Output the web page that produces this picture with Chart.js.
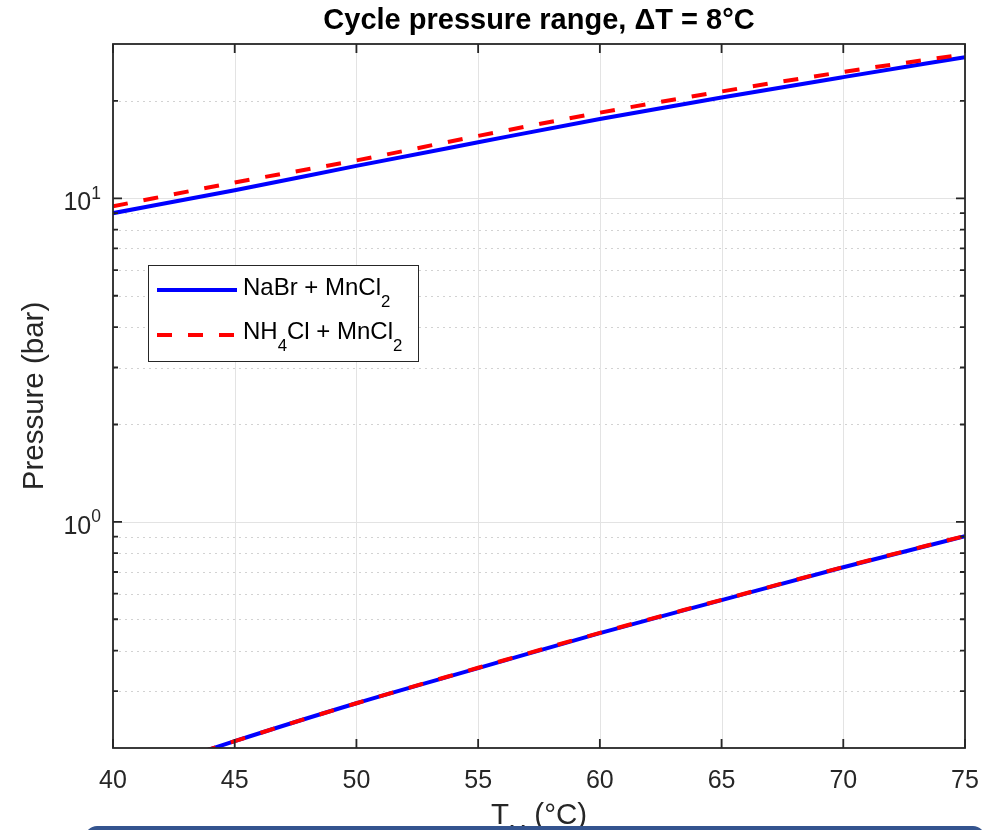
<!DOCTYPE html>
<html>
<head>
<meta charset="utf-8">
<script src="https://cdn.jsdelivr.net/npm/chart.js@4.4.1/dist/chart.umd.min.js"></script>
<style>
  body { margin: 0; background: #fff; overflow: hidden; }
  #wrap { position: relative; width: 996px; height: 830px; }
  #bar { position: absolute; left: 85px; top: 826px; width: 900px; height: 20px;
         background: #34548f; border-radius: 12px 12px 0 0; }
</style>
</head>
<body>
<div id="wrap">
  <canvas id="myChart" width="996" height="830"></canvas>
  <div id="bar"></div>
</div>
<script>
// temperatures T_M (°C)
const tempM = [40, 45, 50, 55, 60, 65, 70, 75];
// pressures (bar)
const nabrHigh = [9.0, 10.6, 12.6, 14.9, 17.6, 20.5, 23.7, 27.3];
const nabrLow = [0.158, 0.21, 0.275, 0.353, 0.453, 0.573, 0.724, 0.903];
const nh4High = [9.45, 11.2, 13.1, 15.6, 18.4, 21.4, 24.6, 27.9];
const nh4Low = [0.158, 0.21, 0.275, 0.354, 0.454, 0.574, 0.725, 0.905];

const xTicks = [40, 45, 50, 55, 60, 65, 70, 75];
const yMajor = [1, 10];
const yMinor = [0.3, 0.4, 0.5, 0.6, 0.7, 0.8, 0.9, 2, 3, 4, 5, 6, 7, 8, 9, 20];

const txt = "#262626";
const fontName = "'Liberation Sans', Arial, sans-serif";

const pts = (ys) => tempM.map((t, i) => ({ x: t, y: ys[i] }));

// text with sub / superscripts: parts = [[text, 'sub'|'sup'|null], ...]
function richWidth(c, parts, size) {
  let w = 0;
  parts.forEach(p => {
    c.font = (p[1] ? size * 0.7 : size) + "px " + fontName;
    w += c.measureText(p[0]).width;
  });
  return w;
}
function richText(c, parts, x, y, size) {
  c.textAlign = "left";
  c.textBaseline = "alphabetic";
  parts.forEach(p => {
    let dy = 0, s = size;
    if (p[1] == "sub") { s = size * 0.7; dy = size * 0.52; }
    if (p[1] == "sup") { s = size * 0.7; dy = -size * 0.47; }
    c.font = s + "px " + fontName;
    c.fillText(p[0], x, y + dy);
    x += c.measureText(p[0]).width;
  });
}

const matlabAxes = {
  id: "matlabAxes",
  beforeDatasetsDraw(chart) {
    const c = chart.ctx, a = chart.chartArea;
    const xs = chart.scales.x, ys = chart.scales.y;
    c.save();
    c.lineWidth = 1;
    // minor dotted
    c.strokeStyle = "#d2d2d2";
    c.setLineDash([2, 4]);
    yMinor.forEach(v => {
      const py = Math.round(ys.getPixelForValue(v)) + 0.5;
      c.beginPath(); c.moveTo(a.left, py); c.lineTo(a.right, py); c.stroke();
    });
    // major solid
    c.setLineDash([]);
    c.strokeStyle = "#e3e3e3";
    yMajor.forEach(v => {
      const py = Math.round(ys.getPixelForValue(v)) + 0.5;
      c.beginPath(); c.moveTo(a.left, py); c.lineTo(a.right, py); c.stroke();
    });
    xTicks.forEach(v => {
      const px = Math.round(xs.getPixelForValue(v)) + 0.5;
      c.beginPath(); c.moveTo(px, a.top); c.lineTo(px, a.bottom); c.stroke();
    });
    c.restore();
  },
  afterDatasetsDraw(chart) {
    const c = chart.ctx, a = chart.chartArea;
    const xs = chart.scales.x, ys = chart.scales.y;
    c.save();
    c.strokeStyle = txt;
    c.lineWidth = 1.8;
    c.strokeRect(a.left, a.top, a.right - a.left, a.bottom - a.top);
    // inward ticks
    c.beginPath();
    xTicks.forEach(v => {
      const px = xs.getPixelForValue(v);
      c.moveTo(px, a.bottom); c.lineTo(px, a.bottom - 9);
      c.moveTo(px, a.top); c.lineTo(px, a.top + 9);
    });
    yMajor.forEach(v => {
      const py = ys.getPixelForValue(v);
      c.moveTo(a.left, py); c.lineTo(a.left + 9, py);
      c.moveTo(a.right, py); c.lineTo(a.right - 9, py);
    });
    yMinor.forEach(v => {
      const py = ys.getPixelForValue(v);
      c.moveTo(a.left, py); c.lineTo(a.left + 5, py);
      c.moveTo(a.right, py); c.lineTo(a.right - 5, py);
    });
    c.stroke();

    c.fillStyle = txt;
    // x tick labels
    c.font = "25px " + fontName;
    c.textAlign = "center";
    c.textBaseline = "alphabetic";
    xTicks.forEach(v => c.fillText(String(v), xs.getPixelForValue(v), a.bottom + 40));
    // y tick labels 10^0, 10^1
    yMajor.forEach(v => {
      const parts = [["10", null], [String(Math.round(Math.log10(v))), "sup"]];
      const w = richWidth(c, parts, 25);
      richText(c, parts, a.left - 12 - w, ys.getPixelForValue(v) + 12, 25);
    });
    // x label
    const xl = [["T", null], ["M", "sub"], [" (\u00B0C)", null]];
    const xw = richWidth(c, xl, 29.5);
    richText(c, xl, (a.left + a.right) / 2 - xw / 2, a.bottom + 76, 29.5);
    // y label
    c.save();
    c.translate(43, (a.top + a.bottom) / 2);
    c.rotate(-Math.PI / 2);
    c.font = "29.5px " + fontName;
    c.textAlign = "center";
    c.fillText("Pressure (bar)", 0, 0);
    c.restore();
    // title
    c.font = "bold 29px " + fontName;
    c.textAlign = "center";
    c.fillStyle = "#000";
    c.fillText("Cycle pressure range, \u0394T = 8\u00B0C", (a.left + a.right) / 2, 29);

    // legend
    const lx = 148, ly = 265, lw = 270, lh = 96;
    c.fillStyle = "#fff";
    c.fillRect(lx, ly, lw, lh);
    c.lineWidth = 1;
    c.strokeStyle = txt;
    c.strokeRect(lx + 0.5, ly + 0.5, lw, lh);
    c.lineWidth = 4;
    c.strokeStyle = "#0000ff";
    c.beginPath(); c.moveTo(157, 290); c.lineTo(237, 290); c.stroke();
    c.strokeStyle = "#ff0000";
    c.setLineDash([15, 16]);
    c.beginPath(); c.moveTo(157, 335); c.lineTo(237, 335); c.stroke();
    c.setLineDash([]);
    c.fillStyle = "#000";
    richText(c, [["NaBr + MnCl", null], ["2", "sub"]], 243, 295, 24);
    richText(c, [["NH", null], ["4", "sub"], ["Cl + MnCl", null], ["2", "sub"]], 243, 339, 24);
    c.restore();
  }
};

const ctx = document.getElementById("myChart").getContext("2d");
new Chart(ctx, {
  type: "line",
  data: {
    datasets: [
      { label: "NaBr + MnCl2", data: pts(nabrHigh), borderColor: "#0000ff", borderWidth: 4, order: 2 },
      { label: "NaBr + MnCl2 low", data: pts(nabrLow), borderColor: "#0000ff", borderWidth: 4, order: 2 },
      { label: "NH4Cl + MnCl2", data: pts(nh4High), borderColor: "#ff0000", borderWidth: 4, borderDash: [15, 16], order: 1 },
      { label: "NH4Cl + MnCl2 low", data: pts(nh4Low), borderColor: "#ff0000", borderWidth: 4, borderDash: [15, 16], order: 1 },
    ],
  },
  options: {
    responsive: false,
    animation: false,
    layout: { padding: { left: 113, right: 31, top: 44, bottom: 82 } },
    elements: {
      point: { radius: 0 },
      line: { cubicInterpolationMode: "monotone", borderCapStyle: "butt" },
    },
    datasets: { line: { clip: 0 } },
    scales: {
      x: { type: "linear", min: 40, max: 75, display: false },
      y: { type: "logarithmic", min: 0.2, max: 30, display: false },
    },
    plugins: { legend: { display: false }, tooltip: { enabled: false }, title: { display: false } },
  },
  plugins: [matlabAxes],
});
</script>
</body>
</html>
